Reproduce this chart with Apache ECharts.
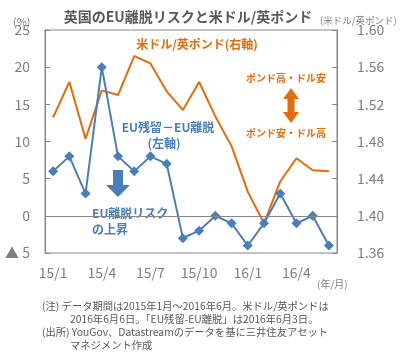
<!DOCTYPE html>
<html>
<head>
<meta charset="utf-8">
<script src="https://cdn.jsdelivr.net/npm/echarts@6/dist/echarts.min.js"></script>
<style>
  html, body { margin: 0; padding: 0; background: #fff; }
  #chart { width: 406px; height: 352px; }
</style>
</head>
<body>
<div id="chart"></div>
<script>
// 月（15/1〜16/6）
const months = ['15/1', '15/2', '15/3', '15/4', '15/5', '15/6', '15/7', '15/8', '15/9',
  '15/10', '15/11', '15/12', '16/1', '16/2', '16/3', '16/4', '16/5', '16/6'];
// EU残留－EU離脱（%、左軸）
const remainMinusLeave = [6, 8, 3, 20, 8, 6, 8, 7, -3, -2, 0, -1, -4, -1, 3, -1, 0, -4];
// 米ドル/英ポンド（右軸）
const gbpusd = [1.506, 1.544, 1.483, 1.535, 1.530, 1.572, 1.564, 1.534, 1.514,
  1.544, 1.507, 1.475, 1.426, 1.392, 1.437, 1.462, 1.449, 1.448];

const FONT = '"Noto Sans CJK JP", "Noto Sans", sans-serif';
const GREY = '#7f7f7f';
const AXIS = '#868686';
const BLUE = '#4a7ebb';
const ORANGE = '#e46c0a';

const chart = echarts.init(document.getElementById('chart'));

// 注記テキスト
function label(text, x, y, opt) {
  return {
    type: 'text', left: x, top: y,
    style: Object.assign({
      text: text, font: '10.3px ' + FONT, fill: '#595959',
      textAlign: 'left', textVerticalAlign: 'middle'
    }, opt || {})
  };
}

chart.setOption({
  animation: false,
  textStyle: { fontFamily: FONT },
  grid: {
    left: 45, right: 69, top: 30, bottom: 99,
    show: true, borderColor: AXIS, borderWidth: 1
  },
  xAxis: {
    type: 'category',
    data: months,
    boundaryGap: true,
    axisLine: { lineStyle: { color: AXIS } },
    axisTick: { show: false },
    axisLabel: { interval: 2, color: GREY, fontSize: 14, margin: 13, fontFamily: FONT }
  },
  yAxis: [
    {
      type: 'value', min: -5, max: 25, interval: 5,
      axisLine: { show: true, lineStyle: { color: AXIS } },
      axisTick: { show: true, inside: true, length: 5, lineStyle: { color: AXIS } },
      splitLine: { show: false },
      axisLabel: {
        color: GREY, fontSize: 14, margin: 15, fontFamily: FONT,
        formatter: v => (v < 0 ? '▲ ' + (-v) : String(v))
      }
    },
    {
      type: 'value', min: 1.36, max: 1.60, interval: 0.04,
      axisLine: { show: true, lineStyle: { color: AXIS } },
      axisTick: { show: true, inside: true, length: 5, lineStyle: { color: AXIS } },
      splitLine: { show: false },
      axisLabel: {
        color: GREY, fontSize: 14, margin: 20, fontFamily: FONT,
        formatter: v => v.toFixed(2)
      }
    }
  ],
  series: [
    {
      name: '米ドル/英ポンド',
      type: 'line',
      yAxisIndex: 1,
      data: gbpusd,
      symbol: 'none',
      lineStyle: { color: ORANGE, width: 2 },
      z: 2
    },
    {
      name: 'EU残留－EU離脱',
      type: 'line',
      yAxisIndex: 0,
      data: remainMinusLeave,
      symbol: 'diamond',
      symbolSize: 10,
      itemStyle: { color: BLUE },
      lineStyle: { color: BLUE, width: 2 },
      z: 3,
      markLine: {
        silent: true,
        symbol: 'none',
        label: { show: false },
        lineStyle: { color: AXIS, width: 1, type: 'solid' },
        data: [{ yAxis: 0 }]
      }
    }
  ],
  graphic: [
    // タイトル・単位
    { type: 'text', x: 188, y: 17, z: 10,
      style: { text: '英国のEU離脱リスクと米ドル/英ポンド', font: 'bold 14px ' + FONT, fill: '#595959',
        textAlign: 'center', textVerticalAlign: 'middle' } },
    label('(%)', 13, 16, { font: '11px ' + FONT, fill: GREY }),
    label('(米ドル/英ポンド)', 320, 16, { font: '9.5px ' + FONT, fill: GREY }),
    label('(年/月)', 317, 279, { font: '10px ' + FONT, fill: GREY }),

    // 系列ラベル
    { type: 'text', x: 197, y: 44, style: { text: '米ドル/英ポンド(右軸)', font: 'bold 12px ' + FONT,
      fill: ORANGE, textAlign: 'center', textVerticalAlign: 'middle' } },
    { type: 'text', x: 286, y: 78, style: { text: 'ポンド高・ドル安', font: 'bold 10px ' + FONT,
      fill: ORANGE, textAlign: 'center', textVerticalAlign: 'middle' } },
    { type: 'text', x: 286, y: 133, style: { text: 'ポンド安・ドル高', font: 'bold 10px ' + FONT,
      fill: ORANGE, textAlign: 'center', textVerticalAlign: 'middle' } },
    { type: 'polygon', shape: { points: [[291, 88], [299, 99], [294.5, 99], [294.5, 112], [299, 112],
      [291, 123], [283, 112], [287.5, 112], [287.5, 99], [283, 99]] }, style: { fill: ORANGE } },

    { type: 'text', x: 168, y: 127, style: { text: 'EU残留－EU離脱', font: 'bold 12px ' + FONT,
      fill: BLUE, textAlign: 'center', textVerticalAlign: 'middle' } },
    { type: 'text', x: 164, y: 143, style: { text: '(左軸)', font: 'bold 12px ' + FONT,
      fill: BLUE, textAlign: 'center', textVerticalAlign: 'middle' } },
    { type: 'polygon', shape: { points: [[113, 170], [123, 170], [123, 185], [130, 185], [118, 197],
      [106, 185], [113, 185]] }, style: { fill: BLUE } },
    label('EU離脱リスク', 92, 207, { font: 'bold 12px ' + FONT, fill: BLUE }),
    label('の上昇', 92, 223, { font: 'bold 12px ' + FONT, fill: BLUE }),

    // 注・出所
    label('(注) データ期間は2015年1月～2016年6月。米ドル/英ポンドは', 42, 301),
    label('2016年6月6日。「EU残留-EU離脱」は2016年6月3日。', 70, 314),
    label('(出所) YouGov、Datastreamのデータを基に三井住友アセット', 42, 327),
    label('マネジメント作成', 70, 340)
  ]
});
</script>
</body>
</html>
